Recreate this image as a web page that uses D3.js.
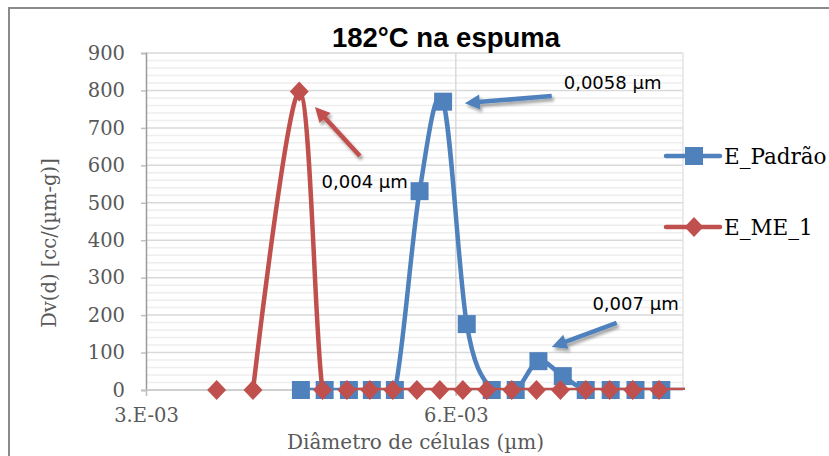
<!DOCTYPE html>
<html>
<head>
<meta charset="utf-8">
<script src="https://cdn.jsdelivr.net/npm/d3@7"></script>
<style>
  html, body { margin: 0; padding: 0; background: #fff; }
  svg { display: block; }
</style>
</head>
<body>
<svg id="chart" width="829" height="456"></svg>
<script>
// Cell diameter (µm) and volume distribution Dv(d) for each foam sample
const seriesNames = ["E_Padrão", "E_ME_1"];
const padraoX = [0.0045, 0.00473, 0.004965, 0.005187, 0.00541, 0.005649, 0.005877, 0.006106,
                 0.006348, 0.00658, 0.0068, 0.007036, 0.007258, 0.0075, 0.00774, 0.00799, 0.00823];
const padraoY = [0, 0, 0, 0, 0, 531, 770, 176, 0, 0, 77, 37, 0, 0, 0, 0, 0];
const me1X = [0.003684, 0.00386, 0.004036, 0.004484, 0.00471, 0.004945, 0.005168, 0.00539,
              0.005623, 0.005845, 0.006068, 0.0063, 0.006542, 0.006781, 0.007013, 0.007258,
              0.00749, 0.007713, 0.007968, 0.00823];
const me1Y = [0, null, 0, 797, 0, 0, 0, 0, 0, 0, 0, 0, 0, 0, 0, 0, 0, 0, 0, 0];

// Axis ticks
const xTicks = [0.003, 0.006];
const yTicks = [0, 100, 200, 300, 400, 500, 600, 700, 800, 900];
const yMinorTicks = d3.range(0, 901, 20);

// Peak call-outs: [text, label x, label y, arrow tail x, tail y, arrow tip x, tip y, series]
const calloutText = ["0,004 µm", "0,0058 µm", "0,007 µm"];
const calloutLabel = [[0.00470, 558], [0.007045, 820], [0.007323, 232]];
const calloutTail = [[0.005071, 625], [0.006929, 785], [0.007558, 179]];
const calloutTip = [[0.004636, 756], [0.006087, 766], [0.006929, 115]];
const calloutSeries = [1, 0, 0];

const colors = ["#4f81bd", "#c0504d"];
const svg = d3.select("#chart");

const plot = { left: 146, right: 683, top: 53, bottom: 390 };
const x = d3.scaleLinear().domain([0.003, 0.0082]).range([plot.left, plot.right]);
const y = d3.scaleLinear().domain([0, 900]).range([plot.bottom, plot.top]);

// Drop shadow for the arrows
const defs = svg.append("defs");
const shadow = defs.append("filter").attr("id", "shadow")
  .attr("x", "-30%").attr("y", "-30%").attr("width", "160%").attr("height", "160%");
shadow.append("feDropShadow").attr("dx", 2).attr("dy", 3).attr("stdDeviation", 1.8)
  .attr("flood-color", "#000").attr("flood-opacity", 0.35);
defs.append("clipPath").attr("id", "plotClip").append("rect")
  .attr("x", plot.left).attr("y", plot.top - 10)
  .attr("width", plot.right - plot.left + 2).attr("height", plot.bottom - plot.top + 10);

// Chart frame
svg.append("rect").attr("x", 9).attr("y", 8).attr("width", 900).attr("height", 500)
  .attr("fill", "#fff").attr("stroke", "#8a8a8a").attr("stroke-width", 2);

// Gridlines
const grid = svg.append("g");
grid.selectAll("line.minor").data(yMinorTicks.filter(d => d % 100 !== 0)).join("line")
  .attr("x1", plot.left).attr("x2", plot.right)
  .attr("y1", d => y(d)).attr("y2", d => y(d))
  .attr("stroke", "#eeeeee").attr("stroke-width", 1.5);
grid.selectAll("line.major").data(yTicks.filter(d => d > 0)).join("line")
  .attr("x1", plot.left).attr("x2", plot.right)
  .attr("y1", d => y(d)).attr("y2", d => y(d))
  .attr("stroke", "#d9d9d9").attr("stroke-width", 1.5);
grid.selectAll("line.vx").data([0.006]).join("line")
  .attr("x1", d => x(d)).attr("x2", d => x(d))
  .attr("y1", plot.top).attr("y2", plot.bottom + 6)
  .attr("stroke", "#d9d9d9").attr("stroke-width", 1.5);
grid.append("line")
  .attr("x1", plot.right).attr("x2", plot.right)
  .attr("y1", plot.top).attr("y2", plot.bottom)
  .attr("stroke", "#e3e3e3").attr("stroke-width", 1.5);

// Axes
const tickFont = "'DejaVu Serif', serif";
const fmtX = d => {
  const [m, e] = d.toExponential(0).split("e");
  const n = Math.abs(+e);
  return m + ".E" + (+e < 0 ? "-" : "+") + (n < 10 ? "0" + n : n);
};
const yAxis = svg.append("g").attr("transform", `translate(${plot.left},0)`)
  .call(d3.axisLeft(y).tickValues(yTicks).tickSize(5).tickPadding(16));
const xAxis = svg.append("g").attr("transform", `translate(0,${plot.bottom})`)
  .call(d3.axisBottom(x).tickValues(xTicks).tickFormat(fmtX).tickSize(6).tickPadding(12));
[yAxis, xAxis].forEach(g => {
  g.select(".domain").attr("stroke", "#bfbfbf").attr("stroke-width", 1.5);
  g.selectAll(".tick line").attr("stroke", "#bfbfbf").attr("stroke-width", 1.5);
  g.selectAll(".tick text").attr("fill", "#595959")
    .style("font-family", tickFont).style("font-size", "19.5px");
});
yAxis.select(".domain").attr("stroke", "#9a9a9a");
xAxis.select(".domain").attr("d", `M${plot.left},0H${plot.right}`);

// Axis titles
svg.append("text").attr("x", (plot.left + plot.right) / 2 + 1).attr("y", 449)
  .attr("text-anchor", "middle").attr("fill", "#595959")
  .style("font-family", tickFont).style("font-size", "20px")
  .text("Diâmetro de células (µm)");
svg.append("text").attr("transform", "translate(49,243) rotate(-90)")
  .attr("text-anchor", "middle").attr("dy", "0.35em").attr("fill", "#595959")
  .style("font-family", tickFont).style("font-size", "19.5px")
  .text("Dv(d) [cc/(µm-g)]");

// Title
svg.append("text").attr("x", 446).attr("y", 47).attr("text-anchor", "middle")
  .attr("fill", "#000").style("font-family", "'Liberation Sans', Arial, sans-serif")
  .style("font-weight", "bold").style("font-size", "27.5px")
  .text("182°C na espuma");

// Series
const line = d3.line()
  .defined(d => d[1] !== null)
  .x(d => x(d[0])).y(d => y(d[1]))
  .curve(d3.curveCardinal);

const squarePath = s => `M${-s/2},${-s/2}h${s}v${s}h${-s}Z`;
const diamondPath = (w, h) => `M0,${-h}L${w},0L0,${h}L${-w},0Z`;
const markerPaths = [squarePath(18), diamondPath(9.5, 10)];

const series = [
  d3.zip(padraoX, padraoY),
  d3.zip(me1X, me1Y)
];

series.forEach((pts, i) => {
  const g = svg.append("g");
  g.append("path").datum(pts)
    .attr("clip-path", "url(#plotClip)")
    .attr("d", line)
    .attr("fill", "none").attr("stroke", colors[i]).attr("stroke-width", 4.5)
    .attr("stroke-linejoin", "round").attr("stroke-linecap", "round");
  g.selectAll("path.mk")
    .data(pts.filter(d => d[1] !== null && d[0] <= x.domain()[1]))
    .join("path").attr("class", "mk")
    .attr("transform", d => `translate(${x(d[0])},${y(d[1])})`)
    .attr("d", markerPaths[i]).attr("fill", colors[i]);
});

// Call-outs with arrows
const arrowG = svg.append("g");
calloutText.forEach((t, i) => {
  const [tx, ty] = [x(calloutTail[i][0]), y(calloutTail[i][1])];
  const [hx, hy] = [x(calloutTip[i][0]), y(calloutTip[i][1])];
  const ang = Math.atan2(hy - ty, hx - tx);
  const headLen = 15, headHalf = 7.5;
  const bx = hx - headLen * Math.cos(ang), by = hy - headLen * Math.sin(ang);
  const nx = -Math.sin(ang), ny = Math.cos(ang);
  const a = arrowG.append("g").attr("filter", "url(#shadow)");
  a.append("line").attr("x1", tx).attr("y1", ty).attr("x2", bx + 2 * Math.cos(ang)).attr("y2", by + 2 * Math.sin(ang))
    .attr("stroke", colors[calloutSeries[i]]).attr("stroke-width", 4.5);
  a.append("path")
    .attr("d", `M${hx},${hy}L${bx + nx * headHalf},${by + ny * headHalf}L${bx - nx * headHalf},${by - ny * headHalf}Z`)
    .attr("fill", colors[calloutSeries[i]]);
  svg.append("text").attr("x", x(calloutLabel[i][0])).attr("y", y(calloutLabel[i][1]))
    .attr("dy", "0.36em").attr("fill", "#000")
    .style("font-family", "'DejaVu Sans', sans-serif").style("font-size", "18px")
    .text(t);
});

// Legend
const legend = svg.append("g");
seriesNames.forEach((name, i) => {
  const ly = [156, 227][i];
  legend.append("line").attr("x1", 666).attr("x2", 720).attr("y1", ly).attr("y2", ly)
    .attr("stroke", colors[i]).attr("stroke-width", 4.5).attr("stroke-linecap", "round");
  legend.append("path").attr("transform", `translate(694,${ly})`)
    .attr("d", markerPaths[i]).attr("fill", colors[i]);
  legend.append("text").attr("x", 724).attr("y", ly).attr("dy", "0.35em")
    .attr("fill", "#000").style("font-family", tickFont).style("font-size", "21.5px")
    .text(name);
});
</script>
</body>
</html>
